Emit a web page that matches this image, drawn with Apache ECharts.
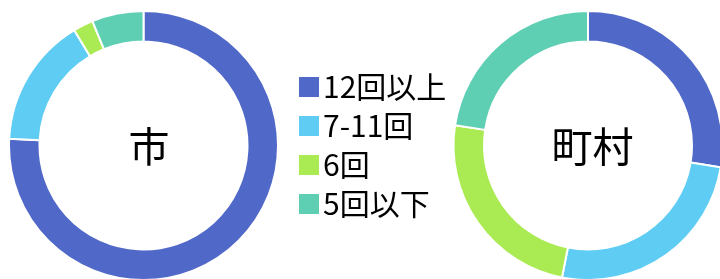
<!DOCTYPE html>
<html>
<head>
<meta charset="utf-8">
<script src="https://cdn.jsdelivr.net/npm/echarts@6/dist/echarts.min.js"></script>
<style>
html, body { margin: 0; padding: 0; background: #fff; }
#chart { width: 720px; height: 279px; }
</style>
</head>
<body>
<div id="chart"></div>
<script>
// 回数区分
var categories = ["12回以上", "7-11回", "6回", "5回以下"];
// 市 (%)
var cityValues = [75.8, 15.6, 2.4, 6.2];
// 町村 (%)
var townValues = [27.6, 25.5, 24.3, 22.6];
var colors = ["#5068c8", "#5fcdf3", "#aaea52", "#5ecfb3"];
var font = "'Noto Sans CJK JP', sans-serif";

function makePie(name, values, cx) {
  return {
    name: name,
    type: "pie",
    center: [cx, 145.5],
    radius: [104, 134.5],
    startAngle: 90,
    clockwise: true,
    avoidLabelOverlap: false,
    label: { show: false },
    labelLine: { show: false },
    itemStyle: { borderColor: "#fff", borderWidth: 2 },
    emphasis: { disabled: true },
    data: categories.map(function(c, i) {
      return { name: c, value: values[i] };
    })
  };
}

var chart = echarts.init(document.getElementById("chart"));
chart.setOption({
  animation: false,
  color: colors,
  title: [
    {
      text: "市",
      left: 144,
      top: 141,
      textAlign: "center",
      textVerticalAlign: "middle",
      textStyle: { fontFamily: font, fontSize: 41, fontWeight: "normal", color: "#000" }
    },
    {
      text: "町村",
      left: 587.5,
      top: 141,
      textAlign: "center",
      textVerticalAlign: "middle",
      textStyle: { fontFamily: font, fontSize: 41, fontWeight: "normal", color: "#000" }
    }
  ],
  legend: {
    orient: "vertical",
    left: 297,
    top: 72,
    icon: "rect",
    itemWidth: 22,
    itemHeight: 22,
    itemGap: 9,
    padding: 0,
    selectedMode: false,
    textStyle: { fontFamily: font, fontSize: 30, lineHeight: 29, color: "#000", padding: [0, 0, 0, -2] },
    data: categories
  },
  series: [
    makePie("市", cityValues, 143.5),
    makePie("町村", townValues, 588)
  ]
});
</script>
</body>
</html>
